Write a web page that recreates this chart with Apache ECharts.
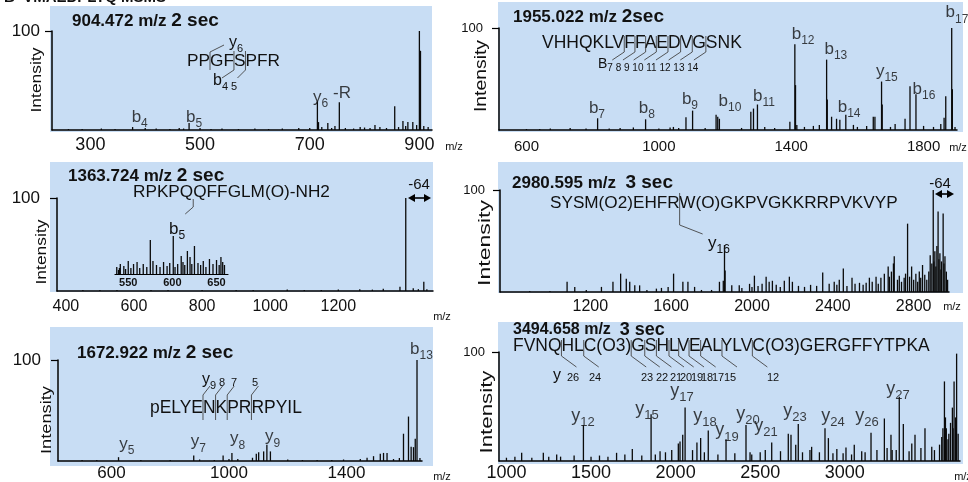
<!DOCTYPE html>
<html><head><meta charset="utf-8">
<script src="https://cdn.jsdelivr.net/npm/echarts@6/dist/echarts.min.js"></script>
<style>html,body{margin:0;padding:0;background:#fff}#c{width:968px;height:482px}</style>
</head><body><div id="c"></div>
<script>
const FONT = "'Liberation Sans', Arial, sans-serif";

// ---------------- data ----------------
const yTicks = [100];
const p1Ticks = [300, 500, 700, 900];
const p1Peaks = [[900,100],[902,80],[714,29],[716,8],[754,28],[855,24],[480,7],[377,3],[870,9],[879,8],[888,8],[733,7],[746,4],[792,3],[819,5],[828,3],[916,3],[895,5],[908,4],[320,1.5],[345,1],[400,2],[420,1.5],[445,1],[462,2],[470,1.5],[500,2],[520,1],[540,1.5],[570,1],[600,1.5],[625,1],[650,1.5],[680,2],[700,2],[722,3],[740,2],[765,2],[780,1.5],[800,2.5],[810,2],[840,2],[862,3],[875,4],[260,1],[285,1]];
const p1Labels = [['y','6',720,33],['-R','',759,37],['b','5',489,13],['b','4',390,13]];

const p2Ticks = [600, 1000, 1400, 1800];
const p2Peaks = [[1885,100],[1887,40],[1411,84],[1413,44],[1507,69],[1509,30],[1673,47.5],[1675,25],[1759,43],[1777,35],[1867,33],[1862,12],[1298,25],[1286,21],[1278,18],[1173,15],[1178,13],[1183,11],[1102,19],[1082,12.5],[960,10.5],[815,11.5],[1396,8],[1417,5],[1522,13],[1537,11],[1547,10],[1565,15],[1648,13],[1653,13],[1714,6],[1744,11],[1852,6],[1588,5],[1628,4],[1467,4],[1485,5],[1044,3],[1034,2.5],[923,2.5],[883,2],[732,2],[672,1.5],[1250,2],[1320,3],[1350,2],[1440,3],[1600,3],[1700,3],[1800,4],[1830,3],[1895,3],[1140,2],[1060,2],[1000,1.5],[850,1.5],[780,1.5],[600,1],[640,1]];
const p2Labels = [['b','17',1901,115],['b','12',1436,94],['b','13',1535,79],['y','15',1689,58],['b','16',1801,40],['b','14',1575,22],['b','11',1318,33],['b','10',1215,28],['b','9',1094,30],['b','8',964,21],['b','7',813,21]];

const p3Ticks = [400, 600, 800, 1000, 1200];
const p3Peaks = [[1398,100],[1451,10],[1381,4.7],[1420,3],[1435,2],[1263,2],[1332,2.5],[1200,1.5],[1100,1],[1050,1.5],[950,1],[900,1],[800,1],[700,1],[650,1],[550,1],[500,1],[450,1],[1150,1],[1300,1.5],[1460,2]];

const insetTicks = [550, 600, 650];
const insetPeaks = [[601,38],[575,34],[625,28],[617,23],[610,18],[620,17],[635,13],[642,15],[650,14],[655,17],[657,12],[550,13],[556,10],[560,12],[541,10],[537,7],[545,8],[567,10],[571,7],[578,13],[582,9],[590,12],[594,8],[597,11],[606,10],[612,12],[629,11],[632,9],[646,10],[653,9],[563,6],[586,7],[553,6],[547,5],[539,4],[603,7],[614,9],[622,10],[638,7],[659,9],[540,6]];

const p4Ticks = [1200, 1600, 2000, 2400, 2800];
const p4Peaks = [[2897,100],[2921,79],[2946,77],[2770,67],[2704,35],[2674,25],[2790,25],[2844,26.5],[2882,36],[2905,40],[2915,45],[2930,38],[2938,30],[2955,35],[2962,20],[2811,18],[2828,20],[2753,14],[2729,16],[2655,18],[2638,14],[2614,15],[2581,14],[2565,9],[2532,9],[2495,14],[2452,23],[2432,12],[2407,10],[2382,8],[2350,19],[2855,17],[2865,12],[2875,20],[2890,28],[2900,30],[2910,25],[2925,32],[2935,22],[2950,28],[2968,12],[2700,28],[2690,20],[2680,15],[2720,12],[2740,10],[2760,18],[2780,15],[2800,12],[2820,10],[2835,14],[1864,46],[1867,21],[1858,11],[2185,15],[2160,11],[2200,10],[2012,16],[2070,15],[2085,10],[2101,11],[1988,8],[1937,6.5],[1900,6.5],[1839,10],[1612,18],[1658,10],[1683,10],[1716,5],[1527,3.3],[1552,4],[1585,5],[1350,18],[1312,10],[1378,13],[1395,10],[1420,6.5],[1444,6.5],[1085,10],[1123,5],[1255,5],[2030,6],[2050,8],[2120,7],[2140,5],[2230,6],[2260,5],[2290,7],[2320,6],[2420,7],[2470,6],[2510,8],[2550,7],[2595,10],[2625,8],[1800,2],[1750,2],[1480,2],[1180,2],[1000,1],[900,1],[1950,4],[2000,5]];

const p5Ticks = [600, 1000, 1400];
const p5Peaks = [[1640,100],[1611,44],[1594,27],[1620,14],[1628,13.7],[1634,22],[1538,8],[1526,8],[1515,7.3],[1492,4.8],[1470,3.2],[1129,16],[1141,9.5],[1118,9.5],[1101,8.6],[1093,7.3],[1080,3.2],[1010,8],[980,5.4],[880,5.4],[624,3.8],[1447,2],[1390,1.5],[1560,2],[1580,3],[1650,3],[1000,2],[1030,2],[900,1.5],[950,1],[800,1],[700,1],[550,1],[500,1],[1200,1.5],[1250,1],[1300,1],[1350,1]];
const p5Labels = [['b','13',1655,111],['y','9',1148,24],['y','8',1029,22],['y','7',896,19],['y','5',652,17]];

const p6Ticks = [1000, 1500, 2000, 2500, 3000];
const p6Peaks = [[3661,98.5],[3589,73],[3646,73],[3636,49],[3573,22],[3600,30],[3615,25],[3625,35],[3655,40],[3670,25],[3322,59],[3234,39],[3346,34],[3273,24],[3155,26],[3415,24],[3474,30],[3056,15],[3007,12.5],[2883,30],[2903,21],[3514,13],[3396,16],[3304,10],[3190,10],[2794,10],[2953,11],[2725,34],[2666,25],[2682,24],[2568,17],[2416,33],[2298,20],[2193,28],[2148,21],[2126,17],[2056,49],[2042,24],[2026,18],[1855,43],[1455,33],[1744,11],[1977,10],[2016,16],[1651,7.5],[1090,7.5],[1218,7.5],[1297,6],[1908,9],[2804,13],[1000,3],[1050,4],[1150,3],[1250,4],[1320,4],[1400,5],[1500,4],[1550,5],[1600,4],[1700,6],[1800,5],[1880,6],[1940,8],[2100,10],[2170,8],[2250,6],[2350,7],[2450,6],[2500,8],[2530,10],[2620,9],[2750,8],[2850,8],[2930,7],[3100,9],[3120,8],[3250,12],[3280,10],[3380,9],[3450,12],[3530,10],[3560,15],[3580,30],[3595,40],[3610,20],[3640,30],[2710,15],[2440,8],[2990,7],[3040,6]];
const p6Labels = [['y','12',1453,41],['y','15',1831,48],['y','17',2038,64],['y','18',2174,41],['y','19',2304,28],['y','20',2428,43],['y','21',2534,32],['y','23',2706,46],['y','24',2930,41],['y','26',3131,41],['y','27',3314,66]];

// ---------------- layout ----------------
const panels = [
  {grid:{left:52,top:31,width:380,height:99}, x:[230,923], peaks:p1Peaks, ticks:p1Ticks, labels:p1Labels, xFont:18, xMargin:6, yFont:17, yMargin:12, bs:17, ss:12},
  {grid:{left:499,top:28,width:458,height:102}, x:[517,1901], peaks:p2Peaks, ticks:p2Ticks, labels:p2Labels, xFont:15, xMargin:9, yFont:13, yMargin:16, bs:17, ss:12},
  {grid:{left:57,top:198,width:376,height:93}, x:[374,1478], peaks:p3Peaks, ticks:p3Ticks, xFont:16, xMargin:8, yFont:17, yMargin:17},
  {grid:{left:500,top:190,width:449,height:102}, x:[753,2975], peaks:p4Peaks, ticks:p4Ticks, xFont:16, xMargin:7, yFont:13, yMargin:15},
  {grid:{left:58,top:360,width:364,height:105}, x:[418,1657], peaks:p5Peaks, ticks:p5Ticks, labels:p5Labels, xFont:17, xMargin:4, yFont:17, yMargin:17, bs:17, ss:12},
  {grid:{left:499,top:352,width:461,height:111}, x:[956,3681], peaks:p6Peaks, ticks:p6Ticks, labels:p6Labels, xFont:18, xMargin:3, yFont:13, yMargin:14, bs:18, ss:13},
  {grid:{left:115,top:234,width:113,height:40}, x:[535,663], peaks:insetPeaks, ticks:insetTicks, inset:true}
];

function renderItem(params, api) {
  const x = api.value(0), y = api.value(1);
  const a = api.coord([x, 0]), b = api.coord([x, y]);
  return {type:'line', shape:{x1:a[0], y1:a[1], x2:b[0], y2:b[1]}, style:{stroke:'#0a0a0a', lineWidth:1.3}};
}
const plain = v => String(v);

const grids = [], xAxes = [], yAxes = [], series = [];
panels.forEach((p, i) => {
  grids.push(Object.assign({containLabel:false}, p.grid));
  xAxes.push({type:'value', gridIndex:i, min:p.x[0], max:p.x[1], splitLine:{show:false},
    axisLine:{show:true, onZero:false, lineStyle:{color:'#000', width:p.inset?1.2:1.5}},
    axisTick:{show:false},
    axisLabel:{show:true, customValues:p.ticks, formatter:plain, fontSize:p.inset?11:p.xFont, fontWeight:p.inset?'bold':'normal', margin:p.inset?3:p.xMargin, color:'#111', fontFamily:FONT}});
  if (p.inset) {
    yAxes.push({type:'value', gridIndex:i, min:0, max:40, show:false});
  } else {
    yAxes.push({type:'value', gridIndex:i, min:0, max:100, splitLine:{show:false},
      axisLine:{show:true, onZero:false, lineStyle:{color:'#000', width:1.5}},
      axisTick:{show:true, customValues:yTicks, length:7, lineStyle:{color:'#000', width:1.2}},
      axisLabel:{show:true, customValues:yTicks, formatter:plain, fontSize:p.yFont, margin:p.yMargin, color:'#111', fontFamily:FONT}});
  }
  series.push({type:'custom', xAxisIndex:i, yAxisIndex:i, renderItem, data:p.peaks, clip:false, silent:true, z:3});
  if (p.labels) {
    series.push({type:'scatter', xAxisIndex:i, yAxisIndex:i, symbolSize:0, clip:false, silent:true, z:4,
      data:p.labels.map(l => ({value:[l[2], l[3]], t:l[0], s:l[1]})),
      label:{show:true, position:'inside', color:'#111',
        formatter:(q) => q.data.s ? '{b|' + q.data.t + '}{s|' + q.data.s + '}' : '{b|' + q.data.t + '}',
        rich:{b:{fontSize:p.bs, fontFamily:FONT, color:'#111', lineHeight:p.bs, verticalAlign:'top'},
              s:{fontSize:p.ss, fontFamily:FONT, color:'#111', lineHeight:p.ss, padding:[Math.round(p.bs*0.5),0,0,0], verticalAlign:'top'}}}});
  }
});

// ---------------- annotations ----------------
const mctx = document.createElement('canvas').getContext('2d');
function tw(str, size, weight) { mctx.font = (weight || 'normal') + ' ' + size + 'px ' + FONT; return mctx.measureText(str).width; }
const gfx = [];
function txt(x, y, text, opt) {
  opt = opt || {};
  const al = opt.align || 'center';
  gfx.push({type:'text', x:x, y:y, z:20, rotation:opt.rot || 0, scaleX:opt.sx || 1,
    style:Object.assign({text:text, fontSize:opt.fs || 14, fontFamily:FONT, fontWeight:opt.fw || 'normal', fill:'#111',
      align:al, verticalAlign:'middle', textAlign:al, textVerticalAlign:'middle'}, opt.style || {})});
}
function subTxt(x, y, base, s, bs, ss, align) {
  txt(x, y, '{b|' + base + '}{s|' + s + '}', {align:align || 'center', style:{rich:{
    b:{fontSize:bs, fontFamily:FONT, fill:'#111', color:'#111', lineHeight:bs, verticalAlign:'top'},
    s:{fontSize:ss, fontFamily:FONT, fill:'#111', color:'#111', lineHeight:ss, padding:[Math.round(bs*0.5),0,0,0], verticalAlign:'top'}}}});
}
function pl(points) { gfx.push({type:'polyline', z:20, shape:{points:points}, style:{stroke:'#444', lineWidth:0.9, fill:null}}); }
function seq(text, left, cy, width, breaks, pathFn) {
  const fs = 20 * width / tw(text, 20);
  txt(left, cy, text, {fs:fs, align:'left'});
  breaks.forEach((k, j) => pl(pathFn(left + tw(text.slice(0, k), fs), j)));
}
function arrow(x1, x2, y) {
  gfx.push({type:'line', z:20, shape:{x1:x1+4, y1:y, x2:x2-4, y2:y}, style:{stroke:'#000', lineWidth:1.6}});
  gfx.push({type:'polygon', z:20, shape:{points:[[x1,y],[x1+7,y-4],[x1+7,y+4]]}, style:{fill:'#000'}});
  gfx.push({type:'polygon', z:20, shape:{points:[[x2,y],[x2-7,y-4],[x2-7,y+4]]}, style:{fill:'#000'}});
}
function title(x, y, a, b, gap, fa, fb) {
  txt(x, y, '{a|' + a + '}' + gap + '{b|' + b + '}', {align:'left', fs:fa, fw:'bold', style:{rich:{
    a:{fontSize:fa, fontWeight:'bold', fontFamily:FONT, fill:'#111', color:'#111'},
    b:{fontSize:fb, fontWeight:'bold', fontFamily:FONT, fill:'#111', color:'#111'}}}});
}

// backgrounds
[[50,6,382,126],[498,2,465,130],[50,162,383,130],[498,162,465,131],[50,327,383,139],[498,322,465,142]].forEach(r => {
  gfx.push({type:'rect', z:-100, shape:{x:r[0], y:r[1], width:r[2], height:r[3]}, style:{fill:'#c8ddf4'}});
});

// figure heading (cut at top edge)
txt(4, -2.5, 'B  VMAEDPLYQ MSMS', {align:'left', fs:15, fw:'bold'});

// titles
title(72, 21, '904.472 m/z', '2 sec', ' ', 17, 19);
title(513, 17, '1955.022 m/z', '2sec', ' ', 17, 19);
title(68, 176, '1363.724 m/z', '2 sec', ' ', 17, 19);
title(512, 183, '2980.595 m/z', '3 sec', '  ', 17, 19);
title(77, 353, '1672.922 m/z', '2 sec', ' ', 17, 19);
title(513, 330, '3494.658 m/z', '3 sec', '  ', 16, 18);

// Intensity axis names
[[37,80,65,15],[482,76,72,16],[42,252,65,15],[485,243,86,17],[47,420,68,15],[487,412,83,17]].forEach(a => {
  txt(a[0], a[1], 'Intensity', {rot:Math.PI/2, fs:a[3], sx:a[2] / tw('Intensity', a[3])});
});

// m/z unit labels
[[454,147],[958,148],[442,317],[952,307],[442,477],[963,477]].forEach(m => txt(m[0], m[1], 'm/z', {fs:11}));

// panel 1 sequence
seq('PPGFSPFR', 187, 61, 93, [2,4,5], (bx, j) => j === 0 ? [[bx,70],[bx,52],[bx+14,45]] : [[bx,51],[bx,70],[bx-(j === 1 ? 12 : 8),78]]);
subTxt(236, 43, 'y', '6', 16, 11);
subTxt(213, 81, 'b', '4 5', 16, 11, 'left');

// panel 2 sequence
seq('VHHQKLVFFAEDVGSNK', 542, 43, 200, [7,8,9,10,11,12,13,14], bx => [[bx,36],[bx,52],[bx-12,60]]);
txt(598, 64, '{B|B}{s|7 8 9 10 11 12 13 14}', {align:'left', style:{rich:{
  B:{fontSize:14, fontFamily:FONT, fill:'#111', lineHeight:14, verticalAlign:'top'},
  s:{fontSize:10, fontFamily:FONT, fill:'#111', lineHeight:10, padding:[6,0,0,0], verticalAlign:'top'}}}});

// panel 3 sequence + b5 + -64
seq('RPKPQQFFGLM(O)-NH2', 133, 192, 197, [5], bx => [[bx,199],[bx,207],[bx-8,214]]);
subTxt(177, 229, 'b', '5', 17, 12);
txt(419, 185, '-64', {fs:15});
arrow(408, 431, 198);

// panel 4 sequence + y16 + -64
seq('SYSM(O2)EHFRW(O)GKPVGKKRRPVKVYP', 550, 203, 348, [12], bx => [[bx,193],[bx,225],[bx+23,234]]);
subTxt(719, 243, 'y', '16', 17, 12);
txt(940, 184, '-64', {fs:15});
arrow(935, 954, 194);

// panel 5 sequence
seq('pELYENKPRRPYIL', 150, 408, 152, [5,6,7,9], bx => [[bx,420],[bx,395],[bx+7,386]]);
subTxt(202, 380, 'y', '9', 16, 11, 'left');
txt(222, 383, '8', {fs:11}); txt(234, 383, '7', {fs:11}); txt(255, 383, '5', {fs:11});

// panel 6 sequence
seq('FVNQHLC(O3)GSHLVEALYLVC(O3)GERGFFYTPKA', 513, 346, 417, [4,6,11,12,13,14,15,16,17,19,22], bx => [[bx,340],[bx,356],[bx+15,367]]);
txt(557, 376, 'y', {fs:16});
[['26',573],['24',595],['23',647],['22',662],['21',676],['20',686],['19',697],['18',707],['17',718],['15',730],['12',773]].forEach(n => txt(n[1], 378, n[0], {fs:11}));

const chart = echarts.init(document.getElementById('c'), null, {renderer:'canvas'});
chart.setOption({animation:false, backgroundColor:'#ffffff', grid:grids, xAxis:xAxes, yAxis:yAxes, series:series, graphic:{elements:gfx}});
</script>
</body></html>
